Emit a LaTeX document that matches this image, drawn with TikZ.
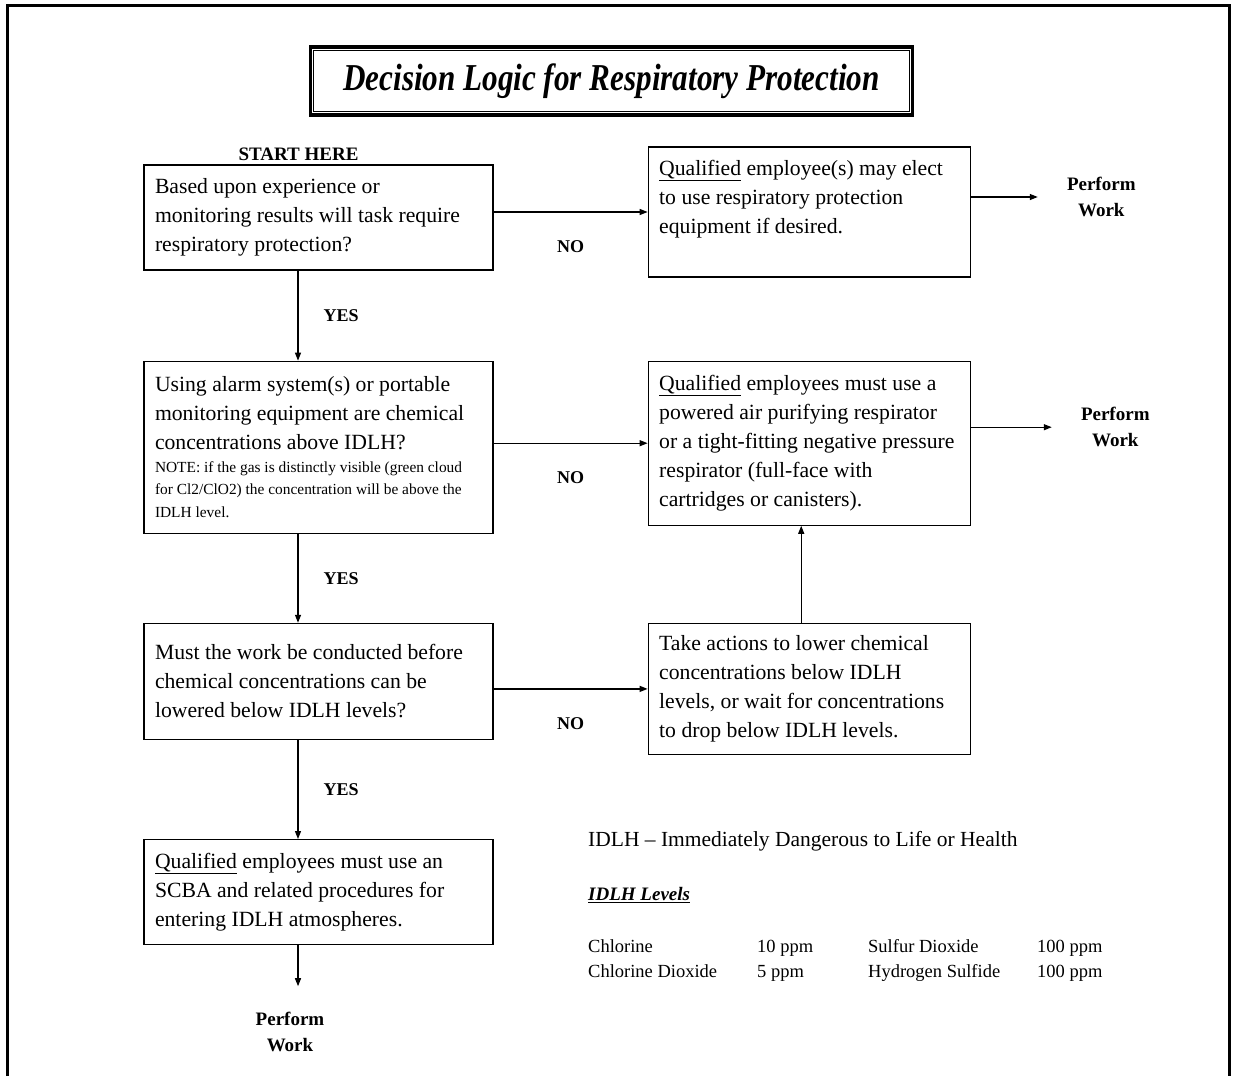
\documentclass[tikz,border=0pt]{standalone}
\usepackage{fontspec}
\setmainfont{Liberation Serif}
\newfontfamily\titlefont[FakeStretch=0.82]{Liberation Serif}
\usetikzlibrary{arrows.meta,positioning}
\tikzstyle{box}=[draw=black,line width=1.2pt,inner xsep=11pt,align=flush left,font=\fontsize{21.7}{29}\selectfont]
\tikzstyle{lbox}=[box,minimum width=349pt,text width=327pt]
\tikzstyle{rbox}=[box,minimum width=322pt,text width=300pt]
\tikzstyle{arrow}=[line width=1.2pt,-{Triangle[length=8pt,width=6pt]},draw=black]
\tikzstyle{lbl}=[inner sep=0pt,font=\fontsize{18}{24}\bfseries\selectfont]
\tikzstyle{perform}=[lbl,align=center,font=\fontsize{19}{26}\bfseries\selectfont]

\begin{document}
\begin{tikzpicture}[x=1pt,y=-1pt]
\useasboundingbox (0,0) rectangle (1244,1076);
% page frame
\draw[line width=3pt] (7.5,1076) -- (7.5,5.5) -- (1229,5.5) -- (1229,1076);

% title
\node[draw,line width=3.5pt,minimum width=602pt,minimum height=68pt,
      font=\titlefont\bfseries\itshape\fontsize{38}{40}\selectfont] (title) at (611.5,81)
      {Decision Logic for Respiratory Protection};
\draw[line width=1pt] ([shift={(5pt,-5pt)}]title.north west) rectangle ([shift={(-5pt,5pt)}]title.south east);

% questions
\node[lbox,minimum height=105pt] (q1) at (318.5,217.5)
      {Based upon experience or\\monitoring results will task require\\respiratory protection?};
\node[lbox,minimum height=172pt,below=90pt of q1] (q2)
      {Using alarm system(s) or portable\\monitoring equipment are chemical\\concentrations above IDLH?\par
       {\fontsize{15.4}{22.5}\selectfont NOTE: if the gas is distinctly visible (green cloud\\for Cl2/ClO2) the concentration will be above the\\IDLH level.\par}};
\node[lbox,minimum height=116pt,below=89pt of q2] (q3)
      {Must the work be conducted before\\chemical concentrations can be\\lowered below IDLH levels?};
\node[lbox,minimum height=105pt,below=99pt of q3] (q4)
      {\underline{Qualified} employees must use an\\SCBA and related procedures for\\entering IDLH atmospheres.};
\node[lbl,font=\fontsize{19}{24}\bfseries\selectfont,anchor=south west] (start)
      at ([xshift=95pt,yshift=4pt]q1.north west) {START HERE};

% actions
\node[rbox,minimum height=130pt,text depth=89pt,right=154pt of q1,yshift=5.5pt] (r1)
      {\underline{Qualified} employee(s) may elect\\to use respiratory protection\\equipment if desired.};
\node[rbox,minimum height=164pt,right=154pt of q2,yshift=4pt] (r2)
      {\underline{Qualified} employees must use a\\powered air purifying respirator\\or a tight-fitting negative pressure\\respirator (full-face with\\cartridges or canisters).};
\node[rbox,minimum height=131pt,right=154pt of q3,yshift=-7.5pt] (r3)
      {Take actions to lower chemical\\concentrations below IDLH\\levels, or wait for concentrations\\to drop below IDLH levels.};

\node[perform,right=96pt of r1,yshift=15pt] (p1) {Perform\\Work};
\node[perform,right=110pt of r2,yshift=16pt] (p2) {Perform\\Work};
\node[perform,below=67pt of q4,xshift=-28.5pt] (p3) {Perform\\Work};

% connectors
\draw[arrow] (q1.east |- r1.west) -- (r1.west) node[lbl,midway,below=28pt] {NO};
\draw[arrow] (q2.east |- r2.west) -- (r2.west) node[lbl,midway,below=28pt] {NO};
\draw[arrow] (q3.east |- r3.west) -- (r3.west) node[lbl,midway,below=28pt] {NO};
\draw[arrow] ([xshift=-20.5pt]q1.south) -- ([xshift=-20.5pt]q2.north) node[lbl,midway,right=25pt] {YES};
\draw[arrow] ([xshift=-20.5pt]q2.south) -- ([xshift=-20.5pt]q3.north) node[lbl,midway,right=25pt] {YES};
\draw[arrow] ([xshift=-20.5pt]q3.south) -- ([xshift=-20.5pt]q4.north) node[lbl,midway,right=25pt] {YES};
\draw[arrow] ([xshift=-8pt]r3.north) -- ([xshift=-8pt]r2.south);
\draw[arrow,shorten >=29pt] (r1.east |- p1.west) -- (p1.west);
\draw[arrow,shorten >=29pt] (r2.east |- p2.west) -- (p2.west);
\draw[arrow,shorten >=26pt] ([xshift=-20.5pt]q4.south) -- ([xshift=-20.5pt]q4.south |- p3.north);

% legend
\node[anchor=west,inner sep=0pt,font=\fontsize{21.5}{26}\selectfont] (idlh) at (588,841)
      {IDLH – Immediately Dangerous to Life or Health};
\node[anchor=west,inner sep=0pt,font=\fontsize{19}{24}\bfseries\itshape\selectfont] (levels) at (588,895)
      {\underline{IDLH Levels}};
\node[anchor=north west,inner sep=0pt,font=\fontsize{18.5}{25}\selectfont] (table) at (588,935)
      {\begin{tabular}{@{}p{169pt}@{}p{111pt}@{}p{169pt}@{}l@{}}
       Chlorine & 10 ppm & Sulfur Dioxide & 100 ppm\\
       Chlorine Dioxide & 5 ppm & Hydrogen Sulfide & 100 ppm
       \end{tabular}};
\end{tikzpicture}
\end{document}
